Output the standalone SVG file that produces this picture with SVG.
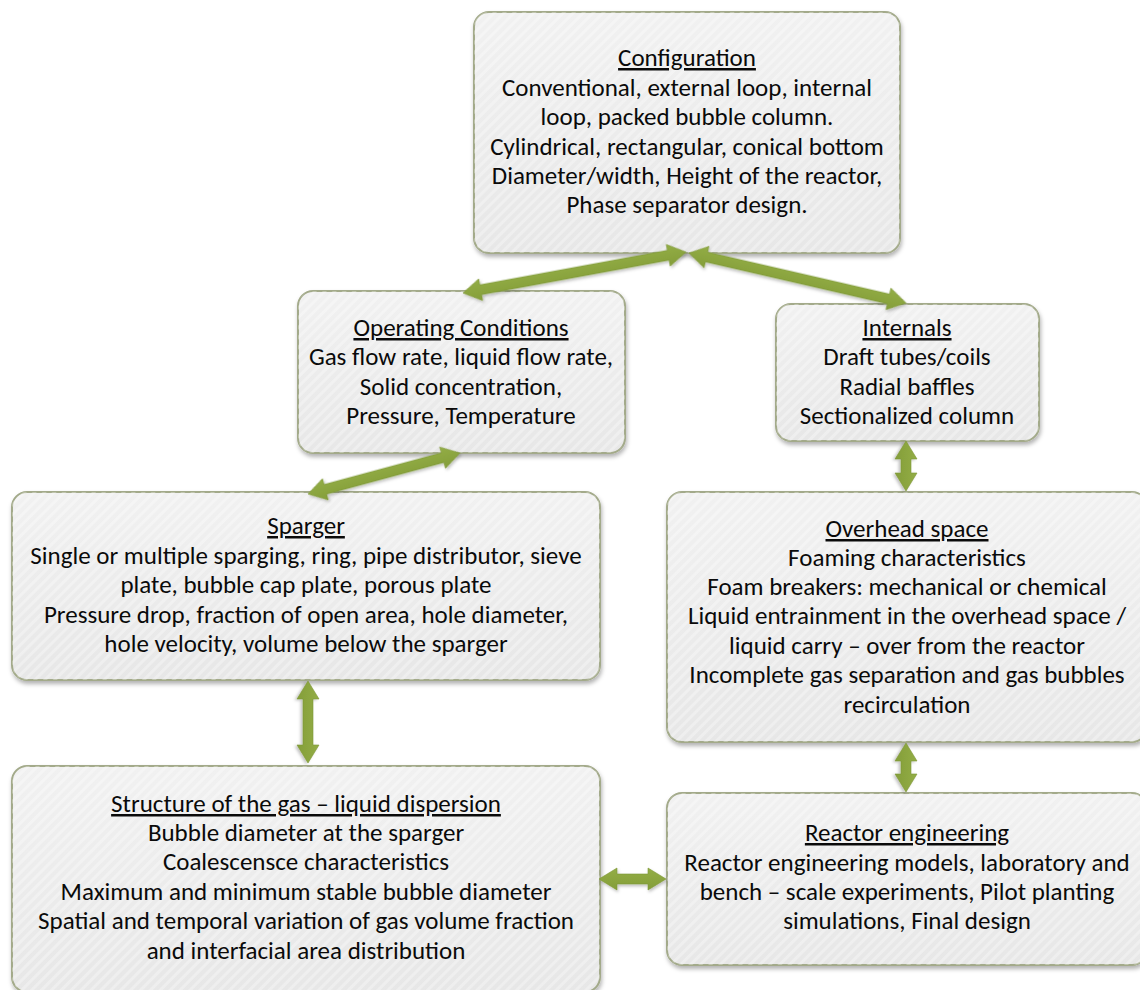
<svg xmlns="http://www.w3.org/2000/svg" width="1140" height="990" viewBox="0 0 1140 990">
  <defs>
    <linearGradient id="boxFill" x1="0" y1="0" x2="0" y2="1">
      <stop offset="0" stop-color="#f1f1f1"/>
      <stop offset="1" stop-color="#e7e7e7"/>
    </linearGradient>
    <pattern id="hatch" width="7" height="7" patternUnits="userSpaceOnUse" patternTransform="rotate(45)">
      <rect width="3" height="7" fill="#ffffff" fill-opacity="0.3"/>
    </pattern>
    <linearGradient id="arrowFill" x1="0" y1="0" x2="0" y2="1">
      <stop offset="0" stop-color="#93ad46"/>
      <stop offset="1" stop-color="#849e39"/>
    </linearGradient>
    <filter id="shadow" x="-10%" y="-10%" width="120%" height="125%">
      <feDropShadow dx="1" dy="3" stdDeviation="2" flood-color="#000" flood-opacity="0.3"/>
    </filter>
    <filter id="ashadow" x="-20%" y="-40%" width="140%" height="180%">
      <feDropShadow dx="1" dy="2" stdDeviation="1.5" flood-color="#000" flood-opacity="0.25"/>
    </filter>
  </defs>
  <style>
    .box { fill: url(#boxFill); stroke: #a3aa8a; stroke-width: 2; filter: url(#shadow); }
    .hatch { fill: url(#hatch); stroke: none; }
    .t { font-family: Carlito, Calibri, Lato, "Liberation Sans", sans-serif; font-size: 25px; fill: #0a0a0a; text-anchor: middle; }
    .h { text-decoration: underline; }
    .arrow { fill: url(#arrowFill); stroke: #7e9736; stroke-width: 0.6; filter: url(#ashadow); }
  </style>

  <rect width="1140" height="990" fill="#ffffff"/>

  <g id="configuration">
    <rect class="box" x="474" y="12" width="426" height="241" rx="15"/>
    <rect class="hatch" x="474" y="12" width="426" height="241" rx="15"/>
    <text class="t"><tspan class="h" x="687" y="66">Configuration</tspan><tspan x="687" y="96">Conventional, external loop, internal</tspan><tspan x="687" y="125">loop, packed bubble column.</tspan><tspan x="687" y="155">Cylindrical, rectangular, conical bottom</tspan><tspan x="687" y="184">Diameter/width, Height of the reactor,</tspan><tspan x="687" y="213">Phase separator design.</tspan></text>
  </g>

  <g id="operating-conditions">
    <rect class="box" x="298" y="291" width="327" height="162" rx="15"/>
    <rect class="hatch" x="298" y="291" width="327" height="162" rx="15"/>
    <text class="t"><tspan class="h" x="461" y="336">Operating Conditions</tspan><tspan x="461" y="365">Gas flow rate, liquid flow rate,</tspan><tspan x="461" y="395">Solid concentration,</tspan><tspan x="461" y="424">Pressure, Temperature</tspan></text>
  </g>

  <g id="internals">
    <rect class="box" x="776" y="304" width="263" height="137" rx="15"/>
    <rect class="hatch" x="776" y="304" width="263" height="137" rx="15"/>
    <text class="t"><tspan class="h" x="907" y="336">Internals</tspan><tspan x="907" y="365">Draft tubes/coils</tspan><tspan x="907" y="395">Radial baffles</tspan><tspan x="907" y="424">Sectionalized column</tspan></text>
  </g>

  <g id="sparger">
    <rect class="box" x="12" y="492" width="588" height="188" rx="15"/>
    <rect class="hatch" x="12" y="492" width="588" height="188" rx="15"/>
    <text class="t"><tspan class="h" x="306" y="534">Sparger</tspan><tspan x="306" y="564">Single or multiple sparging, ring, pipe distributor, sieve</tspan><tspan x="306" y="593">plate, bubble cap plate, porous plate</tspan><tspan x="306" y="623">Pressure drop, fraction of open area, hole diameter,</tspan><tspan x="306" y="652">hole velocity, volume below the sparger</tspan></text>
  </g>

  <g id="overhead-space">
    <rect class="box" x="667" y="492" width="480" height="250" rx="15"/>
    <rect class="hatch" x="667" y="492" width="480" height="250" rx="15"/>
    <text class="t"><tspan class="h" x="907" y="537">Overhead space</tspan><tspan x="907" y="566">Foaming characteristics</tspan><tspan x="907" y="595">Foam breakers: mechanical or chemical</tspan><tspan x="907" y="624">Liquid entrainment in the overhead space /</tspan><tspan x="907" y="654">liquid carry – over from the reactor</tspan><tspan x="907" y="683">Incomplete gas separation and gas bubbles</tspan><tspan x="907" y="713">recirculation</tspan></text>
  </g>

  <g id="dispersion-structure">
    <rect class="box" x="12" y="766" width="588" height="226" rx="15"/>
    <rect class="hatch" x="12" y="766" width="588" height="226" rx="15"/>
    <text class="t"><tspan class="h" x="306" y="812">Structure of the gas – liquid dispersion</tspan><tspan x="306" y="841">Bubble diameter at the sparger</tspan><tspan x="306" y="870">Coalescensce characteristics</tspan><tspan x="306" y="900">Maximum and minimum stable bubble diameter</tspan><tspan x="306" y="929">Spatial and temporal variation of gas volume fraction</tspan><tspan x="306" y="959">and interfacial area distribution</tspan></text>
  </g>

  <g id="reactor-engineering">
    <rect class="box" x="667" y="793" width="480" height="172" rx="15"/>
    <rect class="hatch" x="667" y="793" width="480" height="172" rx="15"/>
    <text class="t"><tspan class="h" x="907" y="841">Reactor engineering</tspan><tspan x="907" y="871">Reactor engineering models, laboratory and</tspan><tspan x="907" y="900">bench – scale experiments, Pilot planting</tspan><tspan x="907" y="929">simulations, Final design</tspan></text>
  </g>

  <!-- double-headed block arrows: drawn along +x from 0 to L, then placed -->
  <g id="connectors">
    <path class="arrow" transform="translate(463,293) rotate(-10.42)" d="M0,0 L18,-11 L18,-5 L208.7,-5 L208.7,-11 L226.7,0 L208.7,11 L208.7,5 L18,5 L18,11 Z"/>
    <path class="arrow" transform="translate(689,253) rotate(12.97)" d="M0,0 L18,-11 L18,-5 L204.7,-5 L204.7,-11 L222.7,0 L204.7,11 L204.7,5 L18,5 L18,11 Z"/>
    <path class="arrow" transform="translate(308,494) rotate(-15.1)" d="M0,0 L18,-11 L18,-5 L139.4,-5 L139.4,-11 L157.4,0 L139.4,11 L139.4,5 L18,5 L18,11 Z"/>
    <path class="arrow" transform="translate(906,441) rotate(90)" d="M0,0 L18,-11 L18,-5 L32,-5 L32,-11 L50,0 L32,11 L32,5 L18,5 L18,11 Z"/>
    <path class="arrow" transform="translate(308,681) rotate(90)" d="M0,0 L18,-11 L18,-5 L64,-5 L64,-11 L82,0 L64,11 L64,5 L18,5 L18,11 Z"/>
    <path class="arrow" transform="translate(906,743) rotate(90)" d="M0,0 L18,-11 L18,-5 L31,-5 L31,-11 L49,0 L31,11 L31,5 L18,5 L18,11 Z"/>
    <path class="arrow" transform="translate(599,879)" d="M0,0 L18,-11 L18,-5 L49,-5 L49,-11 L67,0 L49,11 L49,5 L18,5 L18,11 Z"/>
  </g>
</svg>
